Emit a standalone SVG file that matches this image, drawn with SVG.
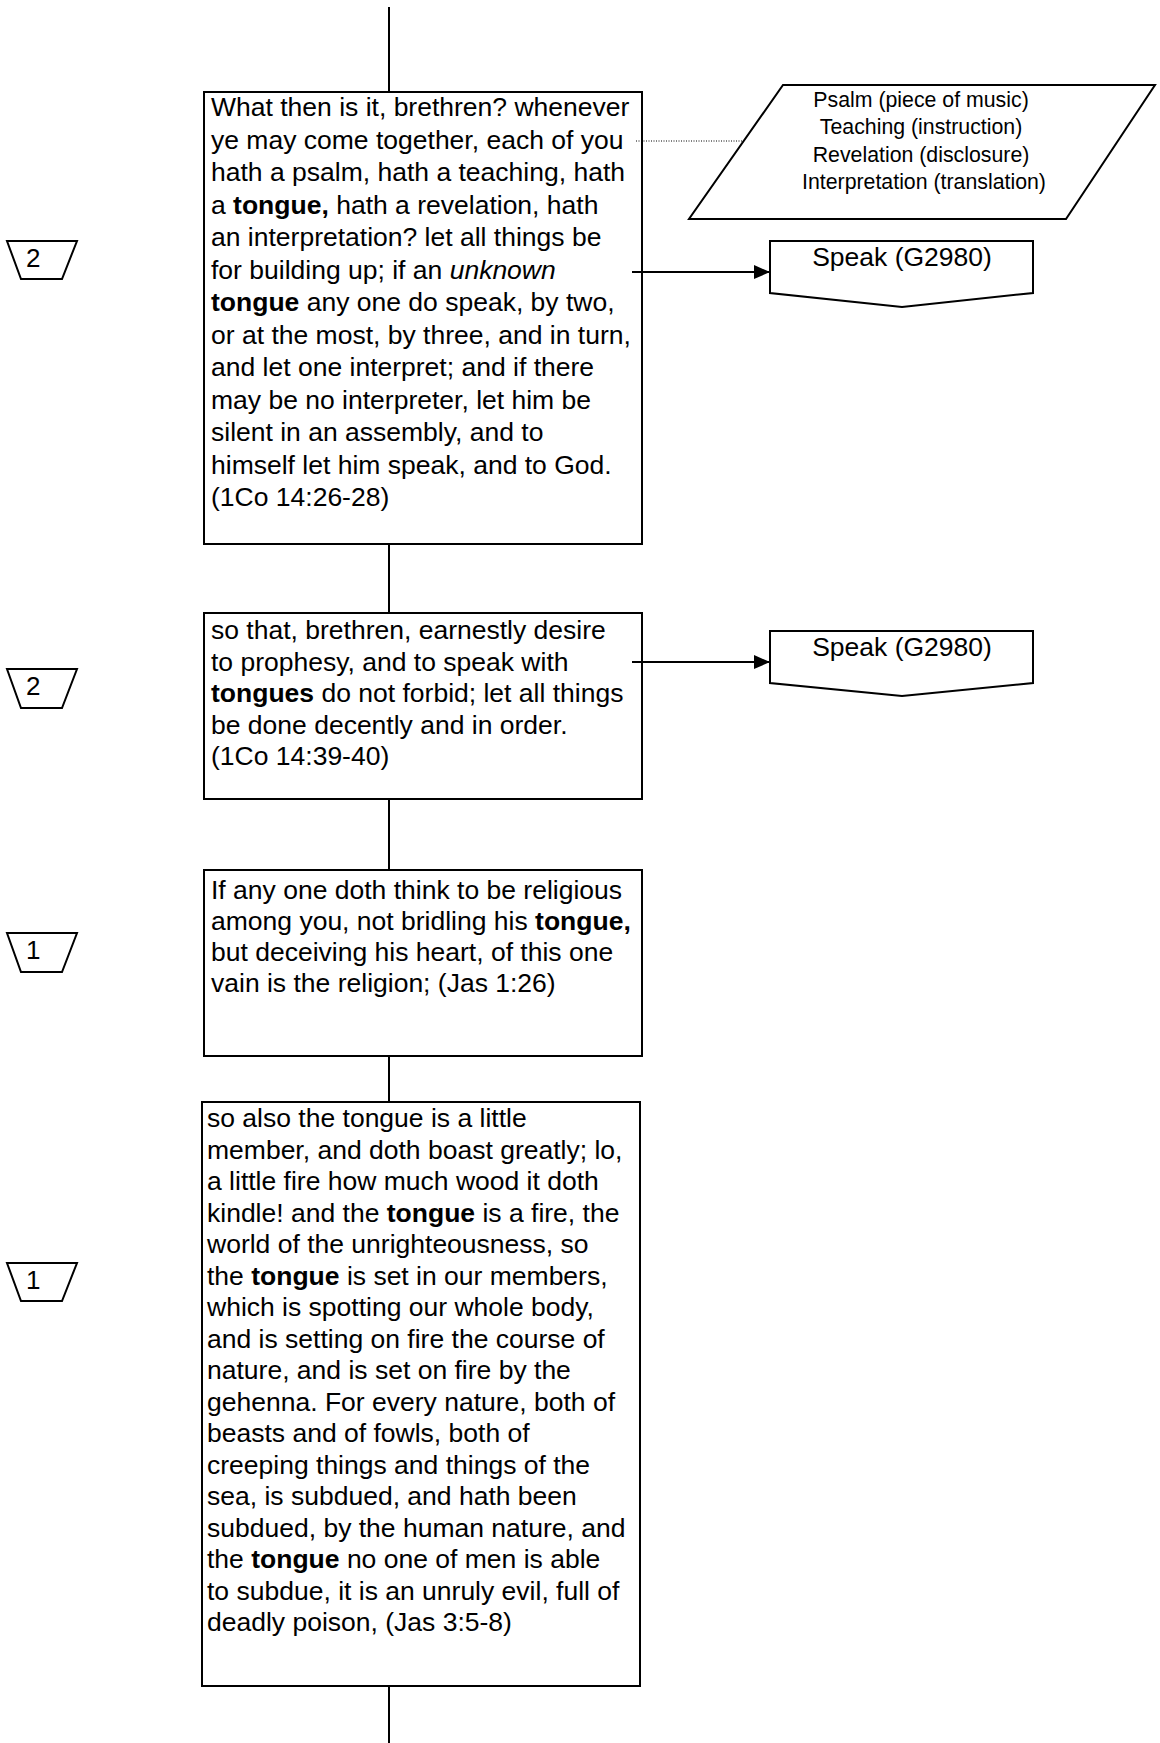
<svg xmlns="http://www.w3.org/2000/svg" width="1160" height="1743" viewBox="0 0 1160 1743">
  <style>
    .shape { fill: #ffffff; stroke: #000000; stroke-width: 2; }
    .conn { fill: none; stroke: #000000; stroke-width: 2; }
    .dot { fill: none; stroke: #000000; stroke-width: 1; stroke-dasharray: 1 1.5; }
    .txt { font-family: "Liberation Sans", Arial, sans-serif; font-size: 26.5px; fill: #000000; }
    .small { font-family: "Liberation Sans", Arial, sans-serif; font-size: 21.3px; fill: #000000; text-anchor: middle; }
    .num { font-family: "Liberation Sans", Arial, sans-serif; font-size: 26px; fill: #000000; }
    .b { font-weight: bold; }
    .i { font-style: italic; }
  </style>
  <defs>
    <marker id="arrow" markerWidth="16" markerHeight="14" refX="16" refY="7" orient="auto" markerUnits="userSpaceOnUse">
      <path d="M0,0 L16,7 L0,14 Z" fill="#000000"/>
    </marker>
  </defs>

  <g id="verse1">
    <rect class="shape" x="204" y="92" width="438" height="452"/>
    <text class="txt">
      <tspan x="211" y="116">What then is it, brethren? whenever</tspan>
      <tspan x="211" y="148.5">ye may come together, each of you</tspan>
      <tspan x="211" y="181">hath a psalm, hath a teaching, hath</tspan>
      <tspan x="211" y="213.5">a <tspan class="b">tongue,</tspan> hath a revelation, hath</tspan>
      <tspan x="211" y="246">an interpretation? let all things be</tspan>
      <tspan x="211" y="278.5">for building up; if an <tspan class="i">unknown</tspan></tspan>
      <tspan x="211" y="311"><tspan class="b">tongue</tspan> any one do speak, by two,</tspan>
      <tspan x="211" y="343.5">or at the most, by three, and in turn,</tspan>
      <tspan x="211" y="376">and let one interpret; and if there</tspan>
      <tspan x="211" y="408.5">may be no interpreter, let him be</tspan>
      <tspan x="211" y="441">silent in an assembly, and to</tspan>
      <tspan x="211" y="473.5">himself let him speak, and to God.</tspan>
      <tspan x="211" y="506">(1Co 14:26-28)</tspan>
    </text>
  </g>

  <g id="badge1">
    <polygon class="shape" points="7,241 77,241 62,279 21,279"/>
    <text class="num" x="26" y="267">2</text>
  </g>

  <g id="terms">
    <polygon class="shape" points="783,85 1155,85 1066,219 689,219"/>
    <text class="small">
      <tspan x="924" y="107">Psalm (piece of music)</tspan>
      <tspan x="924" y="134">Teaching (instruction)</tspan>
      <tspan x="924" y="161.5">Revelation (disclosure)</tspan>
      <tspan x="924" y="188.5">Interpretation (translation)</tspan>
    </text>
  </g>

  <g id="speak1">
    <path class="shape" d="M770,241 H1033 V293 L902,307 L770,293 Z"/>
    <text class="txt" x="902" y="266" text-anchor="middle">Speak (G2980)</text>
  </g>

  <g id="verse2">
    <rect class="shape" x="204" y="613" width="438" height="186"/>
    <text class="txt">
      <tspan x="211" y="639">so that, brethren, earnestly desire</tspan>
      <tspan x="211" y="670.6">to prophesy, and to speak with</tspan>
      <tspan x="211" y="702.2"><tspan class="b">tongues</tspan> do not forbid; let all things</tspan>
      <tspan x="211" y="733.8">be done decently and in order.</tspan>
      <tspan x="211" y="765.4">(1Co 14:39-40)</tspan>
    </text>
  </g>

  <g id="badge2">
    <polygon class="shape" points="7,669 77,669 62,708 21,708"/>
    <text class="num" x="26" y="695">2</text>
  </g>

  <g id="speak2">
    <path class="shape" d="M770,631 H1033 V683 L902,696 L770,683 Z"/>
    <text class="txt" x="902" y="656" text-anchor="middle">Speak (G2980)</text>
  </g>

  <g id="verse3">
    <rect class="shape" x="204" y="870" width="438" height="186"/>
    <text class="txt">
      <tspan x="211" y="899">If any one doth think to be religious</tspan>
      <tspan x="211" y="930">among you, not bridling his <tspan class="b">tongue,</tspan></tspan>
      <tspan x="211" y="961">but deceiving his heart, of this one</tspan>
      <tspan x="211" y="992">vain is the religion; (Jas 1:26)</tspan>
    </text>
  </g>

  <g id="badge3">
    <polygon class="shape" points="7,933 77,933 62,972 21,972"/>
    <text class="num" x="26" y="959">1</text>
  </g>

  <g id="verse4">
    <rect class="shape" x="202" y="1102" width="438" height="584"/>
    <text class="txt">
      <tspan x="207" y="1127">so also the tongue is a little</tspan>
      <tspan x="207" y="1158.5">member, and doth boast greatly; lo,</tspan>
      <tspan x="207" y="1190">a little fire how much wood it doth</tspan>
      <tspan x="207" y="1221.5">kindle! and the <tspan class="b">tongue</tspan> is a fire, the</tspan>
      <tspan x="207" y="1253">world of the unrighteousness, so</tspan>
      <tspan x="207" y="1284.5">the <tspan class="b">tongue</tspan> is set in our members,</tspan>
      <tspan x="207" y="1316">which is spotting our whole body,</tspan>
      <tspan x="207" y="1347.5">and is setting on fire the course of</tspan>
      <tspan x="207" y="1379">nature, and is set on fire by the</tspan>
      <tspan x="207" y="1410.5">gehenna. For every nature, both of</tspan>
      <tspan x="207" y="1442">beasts and of fowls, both of</tspan>
      <tspan x="207" y="1473.5">creeping things and things of the</tspan>
      <tspan x="207" y="1505">sea, is subdued, and hath been</tspan>
      <tspan x="207" y="1536.5">subdued, by the human nature, and</tspan>
      <tspan x="207" y="1568">the <tspan class="b">tongue</tspan> no one of men is able</tspan>
      <tspan x="207" y="1599.5">to subdue, it is an unruly evil, full of</tspan>
      <tspan x="207" y="1631">deadly poison, (Jas 3:5-8)</tspan>
    </text>
  </g>

  <g id="badge4">
    <polygon class="shape" points="7,1263 77,1263 62,1301 21,1301"/>
    <text class="num" x="26" y="1289">1</text>
  </g>

  <g id="connectors">
    <line class="conn" x1="389" y1="7" x2="389" y2="92"/>
    <line class="conn" x1="389" y1="544" x2="389" y2="613"/>
    <line class="conn" x1="389" y1="799" x2="389" y2="870"/>
    <line class="conn" x1="389" y1="1056" x2="389" y2="1102"/>
    <line class="conn" x1="389" y1="1686" x2="389" y2="1743"/>
    <line class="dot" x1="636" y1="141" x2="742" y2="141"/>
    <line class="conn" x1="632" y1="272" x2="770" y2="272" marker-end="url(#arrow)"/>
    <line class="conn" x1="632" y1="662" x2="770" y2="662" marker-end="url(#arrow)"/>
  </g>
</svg>
